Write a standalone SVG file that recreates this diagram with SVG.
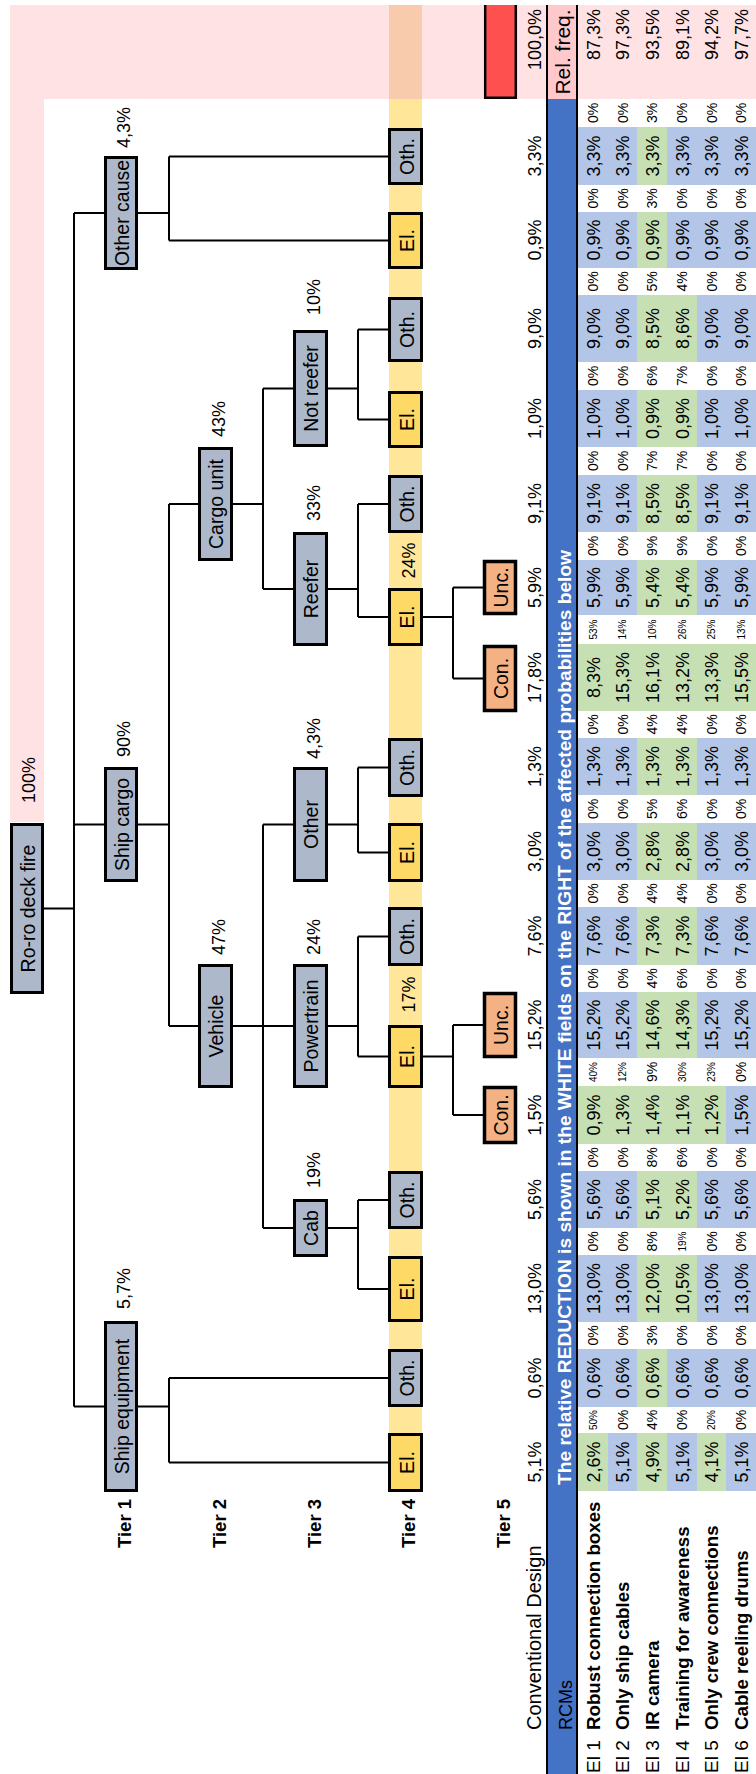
<svg xmlns="http://www.w3.org/2000/svg" width="756" height="1774" viewBox="0 0 756 1774">
<style>
text{font-family:"Liberation Sans",Arial,sans-serif;fill:#000}
.nb{fill:#adb9ca;stroke:#000;stroke-width:3}
.eb{fill:#ffd966;stroke:#000;stroke-width:3}
.ob{fill:#f4b183;stroke:#000;stroke-width:3.5}
.nl{font-size:19.5px;text-anchor:middle}
.pc{font-size:18px}
.pm{font-size:18px;text-anchor:middle}
.tr{font-size:18.5px;font-weight:bold}
.v{font-size:18px;text-anchor:middle}
.r{font-size:14px;text-anchor:middle}
.s{font-size:10px;text-anchor:middle}
.cb{fill:#b4c6e7}
.cg{fill:#c6e0b4}
.cn{fill:none;stroke:#000;stroke-width:2}
.lb{font-size:18.7px;font-weight:bold}
.ei{font-size:19px}
</style>
<g id="background">
<rect x="10" y="5" width="746" height="94" fill="#ffe2e4"/>
<rect x="10" y="5" width="34" height="817" fill="#ffe2e4"/>
<rect x="389" y="5" width="33" height="94" fill="#f8cbad"/>
<rect x="389" y="99" width="33" height="1393" fill="#ffe699"/>
<rect x="547" y="5" width="30" height="94" fill="#ffc9cc"/>
<rect x="547" y="99" width="30" height="1675" fill="#4472c4"/>
<rect x="484" y="5" width="33" height="94" fill="#ff5050"/>
<path d="M485.2 5V97.8H515.8V5" fill="none" stroke="#000" stroke-width="2.5"/>
</g>
<g id="table-cells">
<rect class="cb" x="578" y="127" width="178" height="58"/><rect class="cg" x="637" y="127" width="30" height="58"/>
<rect class="cb" x="578" y="212" width="178" height="56"/><rect class="cg" x="637" y="212" width="30" height="56"/>
<rect class="cb" x="578" y="295" width="178" height="67"/><rect class="cg" x="637" y="295" width="60" height="67"/>
<rect class="cb" x="578" y="390" width="178" height="57"/><rect class="cg" x="637" y="390" width="60" height="57"/>
<rect class="cb" x="578" y="475" width="178" height="57"/><rect class="cg" x="637" y="475" width="60" height="57"/>
<rect class="cb" x="578" y="560" width="178" height="55"/><rect class="cg" x="637" y="560" width="60" height="55"/>
<rect class="cg" x="578" y="644" width="178" height="67"/>
<rect class="cb" x="578" y="738" width="178" height="57"/><rect class="cg" x="637" y="738" width="60" height="57"/>
<rect class="cb" x="578" y="823" width="178" height="57"/><rect class="cg" x="637" y="823" width="60" height="57"/>
<rect class="cb" x="578" y="907" width="178" height="58"/><rect class="cg" x="637" y="907" width="60" height="58"/>
<rect class="cb" x="578" y="992" width="178" height="66"/><rect class="cg" x="637" y="992" width="60" height="66"/>
<rect class="cb" x="578" y="1086" width="178" height="58"/><rect class="cg" x="578" y="1086" width="148" height="58"/>
<rect class="cb" x="578" y="1171" width="178" height="57"/><rect class="cg" x="637" y="1171" width="60" height="57"/>
<rect class="cb" x="578" y="1255" width="178" height="67"/><rect class="cg" x="637" y="1255" width="60" height="67"/>
<rect class="cb" x="578" y="1349" width="178" height="58"/><rect class="cg" x="637" y="1349" width="30" height="58"/>
<rect class="cb" x="578" y="1433" width="178" height="58"/><rect class="cg" x="578" y="1433" width="30" height="58"/><rect class="cg" x="637" y="1433" width="30" height="58"/><rect class="cg" x="697" y="1433" width="29" height="58"/>
<path d="M547 5V1774M577 5V1774" stroke="#000" stroke-width="2"/>
</g>
<g id="table-text" transform="rotate(-90)">
<text x="-1730" y="541" font-size="20">Conventional Design</text>
<text x="-1730" y="572" font-size="18">RCMs</text>
<text x="-1485" y="571" font-size="19" font-weight="bold" style="fill:#fff" textLength="935" lengthAdjust="spacingAndGlyphs">The relative REDUCTION is shown in the WHITE fields on the RIGHT of the affected probabilities below</text>
<text x="-52" y="570" font-size="21" text-anchor="middle">Rel. freq.</text>
<text x="-9" y="540.5" font-size="18" text-anchor="end">100,0%</text>
<text class="ei" x="-1773" y="599.5">El 1</text><text class="lb" x="-1730" y="599.5">Robust connection boxes</text>
<text class="ei" x="-1773" y="629">El 2</text><text class="lb" x="-1730" y="629">Only ship cables</text>
<text class="ei" x="-1773" y="658.5">El 3</text><text class="lb" x="-1730" y="658.5">IR camera</text>
<text class="ei" x="-1773" y="688.5">El 4</text><text class="lb" x="-1730" y="688.5">Training for awareness</text>
<text class="ei" x="-1773" y="718">El 5</text><text class="lb" x="-1730" y="718">Only crew connections</text>
<text class="ei" x="-1773" y="747.5">El 6</text><text class="lb" x="-1730" y="747.5">Cable reeling drums</text>
<g font-size="18" text-anchor="end">
<text x="-9" y="599.5">87,3%</text><text x="-9" y="629">97,3%</text><text x="-9" y="658.5">93,5%</text><text x="-9" y="688.5">89,1%</text><text x="-9" y="718">94,2%</text><text x="-9" y="747.5">97,7%</text>
</g>
<g class="v">
<text x="-156" y="540.5">3,3%</text><text x="-240" y="540.5">0,9%</text><text x="-328.5" y="540.5">9,0%</text><text x="-418.5" y="540.5">1,0%</text><text x="-503.5" y="540.5">9,1%</text><text x="-587.5" y="540.5">5,9%</text><text x="-677.5" y="540.5">17,8%</text><text x="-766.5" y="540.5">1,3%</text><text x="-851.5" y="540.5">3,0%</text><text x="-936" y="540.5">7,6%</text><text x="-1025" y="540.5">15,2%</text><text x="-1115" y="540.5">1,5%</text><text x="-1199.5" y="540.5">5,6%</text><text x="-1288.5" y="540.5">13,0%</text><text x="-1378" y="540.5">0,6%</text><text x="-1462" y="540.5">5,1%</text>
</g>
<g class="v">
<text x="-156" y="599.5">3,3%</text><text x="-156" y="629">3,3%</text><text x="-156" y="658.5">3,3%</text><text x="-156" y="688.5">3,3%</text><text x="-156" y="718">3,3%</text><text x="-156" y="747.5">3,3%</text>
<text x="-240" y="599.5">0,9%</text><text x="-240" y="629">0,9%</text><text x="-240" y="658.5">0,9%</text><text x="-240" y="688.5">0,9%</text><text x="-240" y="718">0,9%</text><text x="-240" y="747.5">0,9%</text>
<text x="-328.5" y="599.5">9,0%</text><text x="-328.5" y="629">9,0%</text><text x="-328.5" y="658.5">8,5%</text><text x="-328.5" y="688.5">8,6%</text><text x="-328.5" y="718">9,0%</text><text x="-328.5" y="747.5">9,0%</text>
<text x="-418.5" y="599.5">1,0%</text><text x="-418.5" y="629">1,0%</text><text x="-418.5" y="658.5">0,9%</text><text x="-418.5" y="688.5">0,9%</text><text x="-418.5" y="718">1,0%</text><text x="-418.5" y="747.5">1,0%</text>
<text x="-503.5" y="599.5">9,1%</text><text x="-503.5" y="629">9,1%</text><text x="-503.5" y="658.5">8,5%</text><text x="-503.5" y="688.5">8,5%</text><text x="-503.5" y="718">9,1%</text><text x="-503.5" y="747.5">9,1%</text>
<text x="-587.5" y="599.5">5,9%</text><text x="-587.5" y="629">5,9%</text><text x="-587.5" y="658.5">5,4%</text><text x="-587.5" y="688.5">5,4%</text><text x="-587.5" y="718">5,9%</text><text x="-587.5" y="747.5">5,9%</text>
<text x="-677.5" y="599.5">8,3%</text><text x="-677.5" y="629">15,3%</text><text x="-677.5" y="658.5">16,1%</text><text x="-677.5" y="688.5">13,2%</text><text x="-677.5" y="718">13,3%</text><text x="-677.5" y="747.5">15,5%</text>
<text x="-766.5" y="599.5">1,3%</text><text x="-766.5" y="629">1,3%</text><text x="-766.5" y="658.5">1,3%</text><text x="-766.5" y="688.5">1,3%</text><text x="-766.5" y="718">1,3%</text><text x="-766.5" y="747.5">1,3%</text>
<text x="-851.5" y="599.5">3,0%</text><text x="-851.5" y="629">3,0%</text><text x="-851.5" y="658.5">2,8%</text><text x="-851.5" y="688.5">2,8%</text><text x="-851.5" y="718">3,0%</text><text x="-851.5" y="747.5">3,0%</text>
<text x="-936" y="599.5">7,6%</text><text x="-936" y="629">7,6%</text><text x="-936" y="658.5">7,3%</text><text x="-936" y="688.5">7,3%</text><text x="-936" y="718">7,6%</text><text x="-936" y="747.5">7,6%</text>
<text x="-1025" y="599.5">15,2%</text><text x="-1025" y="629">15,2%</text><text x="-1025" y="658.5">14,6%</text><text x="-1025" y="688.5">14,3%</text><text x="-1025" y="718">15,2%</text><text x="-1025" y="747.5">15,2%</text>
<text x="-1115" y="599.5">0,9%</text><text x="-1115" y="629">1,3%</text><text x="-1115" y="658.5">1,4%</text><text x="-1115" y="688.5">1,1%</text><text x="-1115" y="718">1,2%</text><text x="-1115" y="747.5">1,5%</text>
<text x="-1199.5" y="599.5">5,6%</text><text x="-1199.5" y="629">5,6%</text><text x="-1199.5" y="658.5">5,1%</text><text x="-1199.5" y="688.5">5,2%</text><text x="-1199.5" y="718">5,6%</text><text x="-1199.5" y="747.5">5,6%</text>
<text x="-1288.5" y="599.5">13,0%</text><text x="-1288.5" y="629">13,0%</text><text x="-1288.5" y="658.5">12,0%</text><text x="-1288.5" y="688.5">10,5%</text><text x="-1288.5" y="718">13,0%</text><text x="-1288.5" y="747.5">13,0%</text>
<text x="-1378" y="599.5">0,6%</text><text x="-1378" y="629">0,6%</text><text x="-1378" y="658.5">0,6%</text><text x="-1378" y="688.5">0,6%</text><text x="-1378" y="718">0,6%</text><text x="-1378" y="747.5">0,6%</text>
<text x="-1462" y="599.5">2,6%</text><text x="-1462" y="629">5,1%</text><text x="-1462" y="658.5">4,9%</text><text x="-1462" y="688.5">5,1%</text><text x="-1462" y="718">4,1%</text><text x="-1462" y="747.5">5,1%</text>
</g>
<g class="r">
<text x="-113" y="598">0%</text><text x="-113" y="627.5">0%</text><text x="-113" y="657">3%</text><text x="-113" y="687">0%</text><text x="-113" y="716.5">0%</text><text x="-113" y="746">0%</text>
<text x="-198.5" y="598">0%</text><text x="-198.5" y="627.5">0%</text><text x="-198.5" y="657">3%</text><text x="-198.5" y="687">0%</text><text x="-198.5" y="716.5">0%</text><text x="-198.5" y="746">0%</text>
<text x="-281.5" y="598">0%</text><text x="-281.5" y="627.5">0%</text><text x="-281.5" y="657">5%</text><text x="-281.5" y="687">4%</text><text x="-281.5" y="716.5">0%</text><text x="-281.5" y="746">0%</text>
<text x="-376" y="598">0%</text><text x="-376" y="627.5">0%</text><text x="-376" y="657">6%</text><text x="-376" y="687">7%</text><text x="-376" y="716.5">0%</text><text x="-376" y="746">0%</text>
<text x="-461" y="598">0%</text><text x="-461" y="627.5">0%</text><text x="-461" y="657">7%</text><text x="-461" y="687">7%</text><text x="-461" y="716.5">0%</text><text x="-461" y="746">0%</text>
<text x="-546" y="598">0%</text><text x="-546" y="627.5">0%</text><text x="-546" y="657">9%</text><text x="-546" y="687">9%</text><text x="-546" y="716.5">0%</text><text x="-546" y="746">0%</text>
<text x="-724.5" y="598">0%</text><text x="-724.5" y="627.5">0%</text><text x="-724.5" y="657">4%</text><text x="-724.5" y="687">4%</text><text x="-724.5" y="716.5">0%</text><text x="-724.5" y="746">0%</text>
<text x="-809" y="598">0%</text><text x="-809" y="627.5">0%</text><text x="-809" y="657">5%</text><text x="-809" y="687">6%</text><text x="-809" y="716.5">0%</text><text x="-809" y="746">0%</text>
<text x="-893.5" y="598">0%</text><text x="-893.5" y="627.5">0%</text><text x="-893.5" y="657">4%</text><text x="-893.5" y="687">4%</text><text x="-893.5" y="716.5">0%</text><text x="-893.5" y="746">0%</text>
<text x="-978.5" y="598">0%</text><text x="-978.5" y="627.5">0%</text><text x="-978.5" y="657">4%</text><text x="-978.5" y="687">6%</text><text x="-978.5" y="716.5">0%</text><text x="-978.5" y="746">0%</text>
<text x="-1072" y="657">9%</text><text x="-1072" y="746">0%</text>
<text x="-1157.5" y="598">0%</text><text x="-1157.5" y="627.5">0%</text><text x="-1157.5" y="657">8%</text><text x="-1157.5" y="687">6%</text><text x="-1157.5" y="716.5">0%</text><text x="-1157.5" y="746">0%</text>
<text x="-1241.5" y="598">0%</text><text x="-1241.5" y="627.5">0%</text><text x="-1241.5" y="657">8%</text><text x="-1241.5" y="716.5">0%</text><text x="-1241.5" y="746">0%</text>
<text x="-1335.5" y="598">0%</text><text x="-1335.5" y="627.5">0%</text><text x="-1335.5" y="657">3%</text><text x="-1335.5" y="687">0%</text><text x="-1335.5" y="716.5">0%</text><text x="-1335.5" y="746">0%</text>
<text x="-1420" y="627.5">0%</text><text x="-1420" y="657">4%</text><text x="-1420" y="687">0%</text><text x="-1420" y="746">0%</text>
</g>
<g class="s">
<text x="-629.5" y="596.5">53%</text><text x="-629.5" y="626">14%</text><text x="-629.5" y="656">10%</text><text x="-629.5" y="685.5">26%</text><text x="-629.5" y="715">25%</text><text x="-629.5" y="745">13%</text>
<text x="-1072" y="596.5">40%</text><text x="-1072" y="626">12%</text><text x="-1072" y="685.5">30%</text><text x="-1072" y="715">23%</text>
<text x="-1241.5" y="685.5">19%</text>
<text x="-1420" y="596.5">50%</text><text x="-1420" y="715">20%</text>
</g>
<g class="tr">
<text x="-1548" y="131">Tier 1</text><text x="-1548" y="226">Tier 2</text><text x="-1548" y="321">Tier 3</text><text x="-1548" y="415">Tier 4</text><text x="-1548" y="510">Tier 5</text>
</g>
</g>
<g id="connectors" class="cn">
<path d="M44 908.5H74M74 213V1406.5M74 213H104M74 824.5H104M74 1406.5H104"/>
<path d="M138 213H169M169 156.5V240.5M169 156.5H388M169 240.5H388"/>
<path d="M138 824.5H169M169 504V1026M169 504H198M169 1026H198"/>
<path d="M233 504H263M263 388.5V589M263 388.5H293M263 589H293"/>
<path d="M328 388.5H358M358 329.5V419.5M358 329.5H388M358 419.5H388"/>
<path d="M328 589H358M358 504V617M358 504H388M358 617H388"/>
<path d="M423 617H453M453 587.5V678.5M453 587.5H483M453 678.5H483"/>
<path d="M233 1026H263M263 824.5V1228M263 824.5H293M263 1026H293M263 1228H293"/>
<path d="M328 824.5H358M358 767.5V852.5M358 767.5H388M358 852.5H388"/>
<path d="M328 1026H358M358 936.5V1056.5M358 936.5H388M358 1056.5H388"/>
<path d="M423 1056.5H453M453 1025V1115M453 1025H483M453 1115H483"/>
<path d="M328 1228H358M358 1200V1289M358 1200H388M358 1289H388"/>
<path d="M138 1406.5H169M169 1378V1462.5M169 1378H388M169 1462.5H388"/>
</g>
<g id="n-root"><rect class="nb" x="11.5" y="824.5" width="31" height="168"/><text class="nl" transform="rotate(-90)" x="-908.5" y="34.5">Ro-ro deck fire</text><text class="pc" transform="rotate(-90)" x="-803" y="35">100%</text></g>
<g id="n-other-cause"><rect class="nb" x="105.5" y="157.5" width="31" height="111"/><text class="nl" transform="rotate(-90)" x="-213" y="128.5">Other cause</text><text class="pc" transform="rotate(-90)" x="-148" y="130">4,3%</text></g>
<g id="n-ship-cargo"><rect class="nb" x="105.5" y="768.5" width="31" height="112"/><text class="nl" transform="rotate(-90)" x="-824.5" y="128.5">Ship cargo</text><text class="pc" transform="rotate(-90)" x="-757" y="130">90%</text></g>
<g id="n-ship-equipment"><rect class="nb" x="105.5" y="1322.5" width="31" height="168"/><text class="nl" transform="rotate(-90)" x="-1406.5" y="128.5">Ship equipment</text><text class="pc" transform="rotate(-90)" x="-1309" y="130">5,7%</text></g>
<g id="n-cargo-unit"><rect class="nb" x="199.5" y="448.5" width="32" height="111"/><text class="nl" transform="rotate(-90)" x="-504" y="223">Cargo unit</text><text class="pc" transform="rotate(-90)" x="-437" y="225">43%</text></g>
<g id="n-vehicle"><rect class="nb" x="199.5" y="965.5" width="32" height="121"/><text class="nl" transform="rotate(-90)" x="-1026" y="223">Vehicle</text><text class="pc" transform="rotate(-90)" x="-955" y="225">47%</text></g>
<g id="n-not-reefer"><rect class="nb" x="294.5" y="331.5" width="32" height="114"/><text class="nl" transform="rotate(-90)" x="-388.5" y="318">Not reefer</text><text class="pc" transform="rotate(-90)" x="-315" y="320">10%</text></g>
<g id="n-reefer"><rect class="nb" x="294.5" y="533.5" width="32" height="111"/><text class="nl" transform="rotate(-90)" x="-589" y="318">Reefer</text><text class="pc" transform="rotate(-90)" x="-521" y="320">33%</text></g>
<g id="n-other"><rect class="nb" x="294.5" y="768.5" width="32" height="112"/><text class="nl" transform="rotate(-90)" x="-824.5" y="318">Other</text><text class="pc" transform="rotate(-90)" x="-759" y="320">4,3%</text></g>
<g id="n-powertrain"><rect class="nb" x="294.5" y="965.5" width="32" height="121"/><text class="nl" transform="rotate(-90)" x="-1026" y="318">Powertrain</text><text class="pc" transform="rotate(-90)" x="-955" y="320">24%</text></g>
<g id="n-cab"><rect class="nb" x="294.5" y="1200.5" width="32" height="55"/><text class="nl" transform="rotate(-90)" x="-1228" y="318">Cab</text><text class="pc" transform="rotate(-90)" x="-1188" y="320">19%</text></g>
<g id="n-oc-oth"><rect class="nb" x="389.5" y="129.5" width="32" height="54"/><text class="nl" transform="rotate(-90)" x="-156.5" y="413.5">Oth.</text></g>
<g id="n-oc-el"><rect class="eb" x="389.5" y="213.5" width="32" height="54"/><text class="nl" transform="rotate(-90)" x="-240.5" y="413.5">El.</text></g>
<g id="n-nr-oth"><rect class="nb" x="389.5" y="298.5" width="32" height="62"/><text class="nl" transform="rotate(-90)" x="-329.5" y="413.5">Oth.</text></g>
<g id="n-nr-el"><rect class="eb" x="389.5" y="392.5" width="32" height="54"/><text class="nl" transform="rotate(-90)" x="-419.5" y="413.5">El.</text></g>
<g id="n-re-oth"><rect class="nb" x="389.5" y="476.5" width="32" height="55"/><text class="nl" transform="rotate(-90)" x="-504" y="413.5">Oth.</text></g>
<g id="n-re-el"><rect class="eb" x="389.5" y="589.5" width="32" height="55"/><text class="nl" transform="rotate(-90)" x="-617" y="413.5">El.</text><text class="pm" transform="rotate(-90)" x="-560.5" y="415">24%</text></g>
<g id="n-ot-oth"><rect class="nb" x="389.5" y="739.5" width="32" height="56"/><text class="nl" transform="rotate(-90)" x="-767.5" y="413.5">Oth.</text></g>
<g id="n-ot-el"><rect class="eb" x="389.5" y="824.5" width="32" height="56"/><text class="nl" transform="rotate(-90)" x="-852.5" y="413.5">El.</text></g>
<g id="n-pt-oth"><rect class="nb" x="389.5" y="908.5" width="32" height="56"/><text class="nl" transform="rotate(-90)" x="-936.5" y="413.5">Oth.</text></g>
<g id="n-pt-el"><rect class="eb" x="389.5" y="1026.5" width="32" height="60"/><text class="nl" transform="rotate(-90)" x="-1056.5" y="413.5">El.</text><text class="pm" transform="rotate(-90)" x="-994.5" y="415">17%</text></g>
<g id="n-cab-oth"><rect class="nb" x="389.5" y="1172.5" width="32" height="55"/><text class="nl" transform="rotate(-90)" x="-1200" y="413.5">Oth.</text></g>
<g id="n-cab-el"><rect class="eb" x="389.5" y="1257.5" width="32" height="63"/><text class="nl" transform="rotate(-90)" x="-1289" y="413.5">El.</text></g>
<g id="n-se-oth"><rect class="nb" x="389.5" y="1350.5" width="32" height="55"/><text class="nl" transform="rotate(-90)" x="-1378" y="413.5">Oth.</text></g>
<g id="n-se-el"><rect class="eb" x="389.5" y="1434.5" width="32" height="56"/><text class="nl" transform="rotate(-90)" x="-1462.5" y="413.5">El.</text></g>
<g id="n-re-unc"><rect class="ob" x="484.5" y="561.5" width="31" height="52"/><text class="nl" transform="rotate(-90)" x="-587.5" y="508">Unc.</text></g>
<g id="n-re-con"><rect class="ob" x="484.5" y="646.5" width="31" height="64"/><text class="nl" transform="rotate(-90)" x="-678.5" y="508">Con.</text></g>
<g id="n-pt-unc"><rect class="ob" x="484.5" y="993.5" width="31" height="63"/><text class="nl" transform="rotate(-90)" x="-1025" y="508">Unc.</text></g>
<g id="n-pt-con"><rect class="ob" x="484.5" y="1087.5" width="31" height="55"/><text class="nl" transform="rotate(-90)" x="-1115" y="508">Con.</text></g>
</svg>
